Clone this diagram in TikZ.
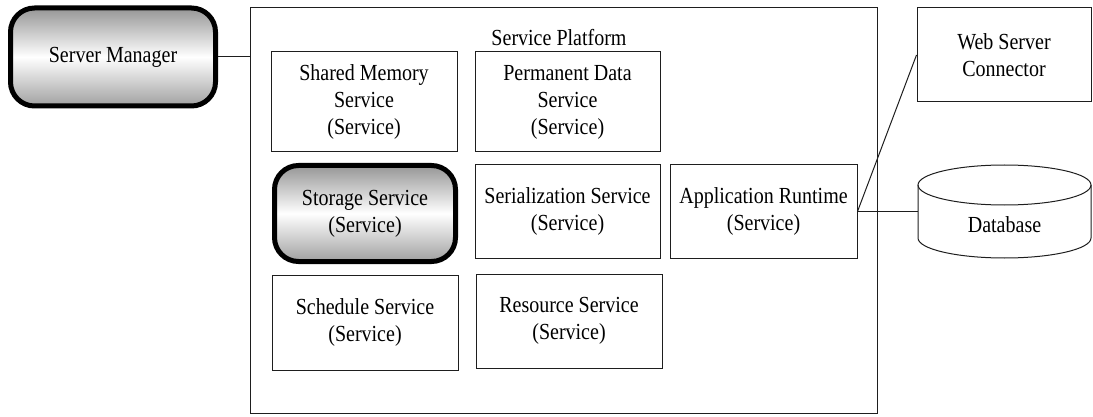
\documentclass[tikz,border=0pt]{standalone}
\usepackage{fontspec}
\setmainfont{Liberation Serif}[FakeStretch=0.87]
\usepackage{tikz}
\usetikzlibrary{shapes.geometric, positioning}
\definecolor{linecolor}{RGB}{30, 30, 30}
\definecolor{shadecolor}{RGB}{150, 150, 150}
\tikzset{
    every node/.style = {font=\fontsize{11.5}{13.5}\selectfont},
    platform/.style = {
        rectangle, draw=linecolor, line width=0.5pt, inner sep=0pt,
        minimum width=313.5pt, minimum height=202.5pt
    },
    service/.style = {
        rectangle, draw=linecolor, line width=0.5pt, align=center, inner sep=0pt,
        minimum width=93pt, minimum height=47pt
    },
    shaded/.style = {
        rectangle, rounded corners=12pt, draw=black, line width=2.5pt, align=center,
        inner sep=0pt, top color=shadecolor, bottom color=shadecolor!90, middle color=white
    },
    database/.style = {
        rectangle, inner sep=0pt, outer sep=0pt, minimum width=86.5pt, minimum height=46.5pt,
        text height=21.5pt, text depth=0pt
    },
    link/.style = {draw=linecolor, line width=0.5pt}
}
\begin{document}
\begin{tikzpicture}[x=0.5pt, y=-0.5pt]
\useasboundingbox (0,0) rectangle (1093,417);
% Nodes
\node[shaded, minimum width=102.5pt, minimum height=49pt] (manager) at (113,57) {Server Manager};
\node[platform] (platform) at (563.5,210.5) {};
\node (platformlabel) at (559,38) {Service Platform};
\node[service, minimum height=50pt] (shared) at (364,102) {Shared Memory\\Service\\(Service)};
\node[service, minimum width=92.5pt, minimum height=50pt] (permanent) at (567.5,102) {Permanent Data\\Service\\(Service)};
\node[shaded, minimum width=90.5pt, minimum height=48pt] (storage) at (365,213.5) {Storage Service\\(Service)};
\node[service, minimum width=92.5pt, minimum height=46.5pt] (serial) at (567.5,211.5) {Serialization Service\\(Service)};
\node[service, minimum width=93.5pt, minimum height=46.5pt] (runtime) at (763.5,211.5) {Application Runtime\\(Service)};
\node[service, minimum height=47.5pt] (schedule) at (365,322.5) {Schedule Service\\(Service)};
\node[service] (resource) at (569,321) {Resource Service\\(Service)};
\node[service, minimum width=87pt] (connector) at (1004,55) {Web Server\\Connector};
\node[database] (db) at (1004.5,211.5) {Database};
% Database drum
\draw[link] ([yshift=-10pt]db.north west) -- ([yshift=10pt]db.south west)
  arc[start angle=180, end angle=360, x radius=43.25pt, y radius=10pt]
  -- ([yshift=-10pt]db.north east);
\draw[link] ([yshift=-10pt]db.north) ellipse [x radius=43.25pt, y radius=10pt];
% Links
\draw[link] (manager.east) -- (manager.east -| platform.west);
\draw[link] (runtime.east) -- (connector.west);
\draw[link] (runtime.east) -- (runtime.east -| db.west);
\end{tikzpicture}
\end{document}
